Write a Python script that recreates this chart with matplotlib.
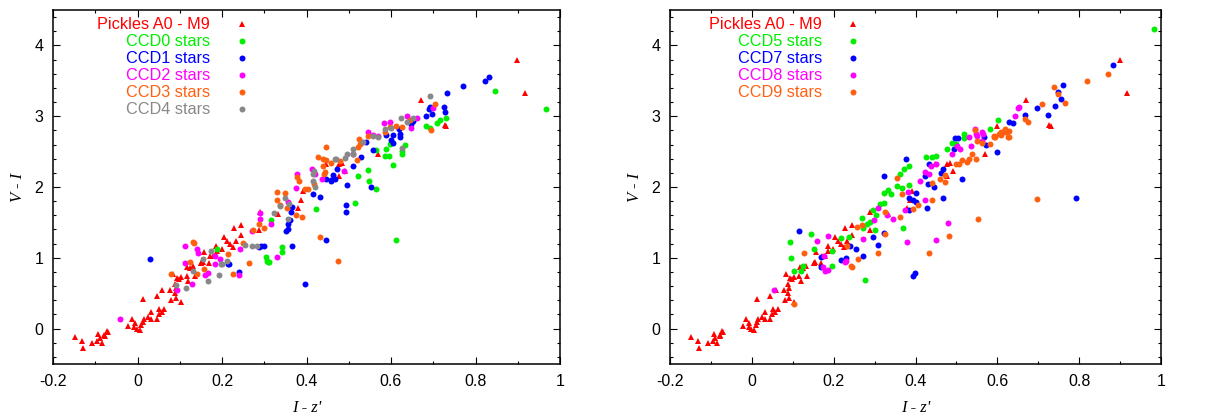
import matplotlib
matplotlib.use("Agg")
import matplotlib.pyplot as plt
from matplotlib.ticker import MultipleLocator, FuncFormatter

# ---------------- data ----------------
pickles_x = [0.899, 0.918, 0.671, 0.730, 0.598, 0.727, 0.570, 0.447, 0.477, 0.485, 0.491, 0.477,
             0.391, 0.386, 0.380, 0.333, 0.290, 0.288, 0.228, 0.244, 0.244, 0.204, 0.211, 0.232,
             0.185, 0.219, 0.225, 0.199, 0.157, 0.187, 0.171, 0.179, 0.151, 0.170,
             0.013, 0.045, 0.058, 0.033, 0.024, 0.031, 0.045, 0.050, 0.063, 0.057, 0.051,
             -0.014, -0.022, -0.006, -0.002, 0.006, -0.008, 0.009, 0.013, 0.016,
             0.080, 0.092, 0.103, 0.088, 0.094, 0.083, 0.091, 0.098, 0.104, 0.116, 0.118,
             0.124, 0.120, 0.132, 0.136, 0.151, 0.155, 0.078, 0.088,
             -0.148, -0.131, -0.130, -0.107, -0.093, -0.095, -0.089, -0.084, -0.077, -0.073,
             -0.071, -0.079]
pickles_y = [3.79, 3.33, 3.23, 2.86, 2.86, 2.88, 2.47, 2.32, 2.32, 2.34, 2.23, 2.16,
             1.95, 1.82, 1.71, 1.62, 1.64, 1.39, 1.42, 1.46, 1.32, 1.29, 1.24, 1.24,
             1.17, 1.20, 1.15, 1.13, 1.08, 1.10, 1.03, 1.02, 0.92, 0.92,
             0.42, 0.46, 0.55, 0.23, 0.16, 0.14, 0.13, 0.21, 0.28, 0.23, 0.28,
             0.14, 0.04, 0.08, 0.00, -0.02, 0.02, 0.05, 0.10, 0.13,
             0.41, 0.43, 0.37, 0.63, 0.72, 0.77, 0.58, 0.70, 0.73, 0.75, 0.87,
             0.85, 0.67, 0.89, 0.75, 0.92, 0.94, 0.55, 0.50,
             -0.12, -0.18, -0.27, -0.20, -0.08, -0.18, -0.13, -0.20, -0.11, -0.04,
             -0.05, -0.09]

# left panel
ccd0_x = [0.968, 0.846, 0.731, 0.716, 0.708, 0.682, 0.692, 0.633, 0.598, 0.588, 0.596, 0.585,
          0.625, 0.627, 0.604, 0.565, 0.546, 0.521, 0.548, 0.564, 0.422, 0.514, 0.613, 0.315,
          0.341, 0.341, 0.303, 0.307, 0.312, 0.189, 0.309]
ccd0_y = [3.10, 3.36, 2.97, 2.95, 2.91, 2.86, 2.84, 2.60, 2.61, 2.54, 2.44, 2.44,
          2.47, 2.51, 2.31, 2.52, 2.24, 2.15, 2.08, 1.97, 1.69, 1.77, 1.25, 1.54,
          1.15, 1.08, 1.01, 0.95, 0.94, 1.13, 0.94]

ccd1_x = [0.833, 0.823, 0.771, 0.733, 0.692, 0.690, 0.726, 0.728, 0.682, 0.697, 0.652, 0.648,
          0.589, 0.605, 0.622, 0.622, 0.601, 0.605, 0.558, 0.542, 0.528, 0.510, 0.473, 0.463,
          0.447, 0.457, 0.467, 0.459, 0.416, 0.433, 0.497, 0.552, 0.366, 0.364, 0.362, 0.357,
          0.357, 0.351, 0.288, 0.293, 0.299, 0.366, 0.445, 0.493, 0.493, 0.029, 0.215, 0.396,
          0.240, 0.216, 0.619]
ccd1_y = [3.56, 3.50, 3.42, 3.33, 3.13, 3.10, 3.13, 3.06, 3.00, 3.03, 2.93, 2.89,
          2.74, 2.74, 2.75, 2.70, 2.66, 2.62, 2.52, 2.63, 2.43, 2.29, 2.25, 2.17,
          2.11, 2.10, 2.11, 2.09, 1.90, 1.86, 2.03, 2.00, 1.72, 1.64, 1.54, 1.48,
          1.41, 1.38, 1.15, 1.17, 1.17, 1.17, 1.25, 1.74, 1.64, 0.99, 0.91, 0.63,
          0.80, 0.91, 2.82]

ccd2_x = [0.700, 0.637, 0.662, 0.647, 0.583, 0.597, 0.546, 0.558, 0.570, 0.509, 0.488, 0.414,
          0.419, 0.436, 0.378, 0.376, 0.356, 0.290, 0.290, 0.317, 0.112, 0.140, 0.144, 0.183,
          0.195, 0.112, 0.329, 0.270, 0.242, -0.042, 0.129, 0.094, 0.159, 0.167, 0.183, 0.240]
ccd2_y = [3.12, 3.00, 2.97, 2.84, 2.91, 2.92, 2.78, 2.74, 2.72, 2.46, 2.23, 2.25,
          2.18, 2.12, 2.19, 1.99, 1.79, 1.63, 1.55, 1.48, 1.17, 1.12, 1.07, 1.03,
          0.99, 0.93, 1.01, 1.38, 1.12, 0.14, 0.63, 0.55, 0.76, 0.79, 0.91, 0.76]

ccd3_x = [0.705, 0.694, 0.644, 0.597, 0.613, 0.625, 0.585, 0.546, 0.524, 0.526, 0.447, 0.522,
          0.520, 0.428, 0.439, 0.447, 0.439, 0.457, 0.479, 0.329, 0.349, 0.331, 0.337, 0.355,
          0.442, 0.443, 0.378, 0.383, 0.417, 0.404, 0.396, 0.274, 0.299, 0.287, 0.132, 0.133,
          0.249, 0.215, 0.376, 0.390, 0.433, 0.475, 0.264, 0.125, 0.080, 0.142, 0.225, 0.157]
ccd3_y = [3.17, 2.81, 2.95, 2.85, 2.86, 2.85, 2.78, 2.72, 2.68, 2.61, 2.57, 2.56,
          2.38, 2.42, 2.39, 2.38, 2.30, 2.34, 2.37, 1.93, 1.91, 1.81, 1.75, 1.71,
          2.18, 2.21, 2.14, 2.08, 2.04, 1.97, 1.97, 1.39, 1.42, 1.48, 1.23, 1.21,
          1.21, 1.05, 1.61, 1.58, 1.29, 0.96, 0.92, 0.94, 0.77, 0.77, 0.77, 0.84]

ccd4_x = [0.692, 0.651, 0.624, 0.637, 0.585, 0.601, 0.558, 0.570, 0.625, 0.510, 0.509, 0.495,
          0.491, 0.471, 0.467, 0.533, 0.417, 0.416, 0.416, 0.420, 0.349, 0.337, 0.359, 0.323,
          0.356, 0.254, 0.272, 0.282, 0.175, 0.155, 0.211, 0.199, 0.114, 0.092, 0.167, 0.193,
          0.132, 0.197]
ccd4_y = [3.28, 2.97, 2.97, 2.92, 2.82, 2.84, 2.72, 2.71, 2.55, 2.54, 2.47, 2.47,
          2.41, 2.40, 2.40, 2.63, 2.22, 2.18, 2.09, 2.00, 1.84, 1.73, 1.76, 1.63,
          1.55, 1.18, 1.17, 1.16, 1.10, 0.99, 0.96, 0.91, 0.57, 0.61, 0.67, 0.76,
          0.81, 0.91]

# right panel
ccd5_x = [0.982, 0.601, 0.581, 0.518, 0.518, 0.500, 0.478, 0.490, 0.450, 0.441, 0.425, 0.385,
          0.373, 0.362, 0.356, 0.366, 0.334, 0.322, 0.340, 0.385, 0.314, 0.304, 0.288, 0.282,
          0.271, 0.300, 0.269, 0.369, 0.217, 0.197, 0.152, 0.144, 0.093, 0.096, 0.237, 0.103,
          0.119, 0.196, 0.277, 0.296, 0.322, 0.124]
ccd5_y = [4.23, 2.95, 2.82, 2.75, 2.69, 2.61, 2.54, 2.62, 2.44, 2.43, 2.43, 2.29,
          2.26, 2.19, 2.02, 1.99, 1.96, 1.92, 1.90, 2.03, 1.76, 1.60, 1.50, 1.48,
          1.42, 1.39, 1.56, 1.42, 1.28, 1.09, 1.13, 1.34, 1.23, 1.00, 1.29, 0.81,
          0.81, 0.88, 0.69, 1.68, 1.77, 0.88]

ccd7_x = [0.883, 0.761, 0.748, 0.756, 0.741, 0.697, 0.723, 0.668, 0.628, 0.638, 0.567, 0.497,
          0.505, 0.573, 0.599, 0.494, 0.514, 0.466, 0.462, 0.432, 0.424, 0.401, 0.385, 0.393,
          0.401, 0.383, 0.428, 0.468, 0.792, 0.297, 0.308, 0.239, 0.254, 0.217, 0.231, 0.271,
          0.168, 0.116, 0.431, 0.446, 0.324, 0.377, 0.322, 0.168, 0.394, 0.398]
ccd7_y = [3.72, 3.44, 3.34, 3.24, 3.15, 3.11, 3.02, 3.02, 2.92, 2.90, 2.71, 2.69,
          2.69, 2.60, 2.50, 2.54, 2.11, 2.25, 2.20, 2.32, 2.15, 1.91, 1.85, 1.81,
          1.79, 1.68, 1.70, 1.85, 1.84, 1.29, 1.18, 1.16, 1.13, 0.97, 1.00, 1.02,
          1.01, 1.38, 2.04, 2.00, 1.35, 2.39, 2.15, 0.87, 0.74, 0.78]

ccd8_x = [0.650, 0.654, 0.642, 0.545, 0.563, 0.548, 0.531, 0.551, 0.565, 0.563, 0.535, 0.502,
          0.508, 0.490, 0.450, 0.437, 0.424, 0.433, 0.412, 0.381, 0.424, 0.375, 0.344, 0.331,
          0.308, 0.298, 0.271, 0.229, 0.185, 0.160, 0.177, 0.379, 0.450, 0.480, 0.054, 0.174,
          0.178, 0.186, 0.228]
ccd8_y = [3.11, 3.13, 3.00, 2.82, 2.77, 2.75, 2.70, 2.72, 2.75, 2.65, 2.58, 2.58,
          2.53, 2.47, 2.32, 2.30, 2.21, 2.19, 2.09, 1.93, 1.82, 1.67, 1.55, 1.61,
          1.71, 1.54, 1.27, 0.95, 1.31, 1.24, 1.03, 1.23, 1.25, 1.49, 0.54, 0.87,
          0.82, 0.83, 0.94]

ccd9_x = [0.871, 0.818, 0.739, 0.748, 0.765, 0.710, 0.667, 0.675, 0.618, 0.624, 0.610, 0.628,
          0.603, 0.593, 0.626, 0.545, 0.595, 0.608, 0.618, 0.628, 0.697, 0.552, 0.482, 0.433,
          0.308, 0.356, 0.367, 0.362, 0.326, 0.326, 0.269, 0.257, 0.233, 0.128, 0.259, 0.245,
          0.440, 0.393, 0.407, 0.441, 0.459, 0.471, 0.473, 0.500, 0.506, 0.527, 0.537, 0.547,
          0.531, 0.514, 0.551, 0.563, 0.583, 0.593, 0.103, 0.243]
ccd9_y = [3.60, 3.50, 3.41, 3.31, 3.18, 3.17, 2.96, 2.92, 2.82, 2.78, 2.77, 2.79,
          2.75, 2.72, 2.71, 2.80, 2.71, 2.73, 2.77, 2.71, 1.83, 1.55, 1.31, 1.07,
          1.07, 2.13, 1.90, 1.58, 1.64, 1.34, 1.46, 1.44, 1.16, 1.07, 0.99, 0.87,
          1.82, 1.69, 1.74, 2.05, 2.11, 2.07, 2.17, 2.32, 2.33, 2.36, 2.46, 2.40,
          2.40, 2.38, 2.65, 2.62, 2.61, 2.71, 0.35, 0.89]

legend_labels_left = ["Pickles A0 - M9", "CCD0 stars", "CCD1 stars", "CCD2 stars", "CCD3 stars", "CCD4 stars"]
legend_labels_right = ["Pickles A0 - M9", "CCD5 stars", "CCD7 stars", "CCD8 stars", "CCD9 stars"]
x_ticks = [-0.2, 0, 0.2, 0.4, 0.6, 0.8, 1.0]
y_ticks = [0, 1, 2, 3, 4]

RED = "#ff0000"
GREEN = "#00ee00"
BLUE = "#0000ff"
MAGENTA = "#ff00ff"
ORANGE = "#ff6010"
GRAY = "#888888"

plt.rcParams['font.family'] = ['Liberation Sans', 'DejaVu Sans']

fig = plt.figure(figsize=(12.07, 4.16), dpi=100)
axL = fig.add_axes([53/1207, 52/416, 507/1207, 354/416])
axR = fig.add_axes([670/1207, 52/416, 491/1207, 354/416])

MS_C = 4.3
MS_T = 3.8


def setup(ax):
    ax.set_xlim(-0.2, 1.0)
    ax.set_ylim(-0.5, 4.5)
    ax.set_xticks(x_ticks)
    ax.set_yticks(y_ticks)
    ax.xaxis.set_minor_locator(MultipleLocator(0.1))
    ax.yaxis.set_minor_locator(MultipleLocator(0.2))
    ax.xaxis.set_major_formatter(FuncFormatter(lambda v, p: "%g" % round(v, 2)))
    ax.yaxis.set_major_formatter(FuncFormatter(lambda v, p: "%g" % v))
    ax.tick_params(which='both', direction='in', top=True, right=True, labelsize=11.5, width=0.8)
    ax.tick_params(which='major', length=5, pad=7)
    ax.tick_params(which='minor', length=2.5)
    for s in ax.spines.values():
        s.set_linewidth(1.1)
    ax.set_xlabel("I - z'", family=['Liberation Serif', 'DejaVu Serif'], style='italic', fontsize=12, labelpad=8)
    ax.set_ylabel("V - I", family=['Liberation Serif', 'DejaVu Serif'], style='italic', fontsize=12, labelpad=6)


def draw(ax, series, labels):
    for (xs, ys, color, marker) in series:
        ms = MS_T if marker == '^' else MS_C
        ax.plot(xs, ys, linestyle='none', marker=marker, color=color, markersize=ms, markeredgewidth=0)
    # legend (gnuplot style: right-aligned text then marker)
    ystart = 0.960
    dy = 0.0482
    for i, ((xs, ys, color, marker), lab) in enumerate(zip(series, labels)):
        yy = ystart - i * dy
        ax.text(0.31, yy, lab, transform=ax.transAxes, ha='right', va='center', color=color, fontsize=11.7)
        ms = MS_T if marker == '^' else MS_C
        ax.plot([0.373], [yy], transform=ax.transAxes, marker=marker, color=color, markersize=ms,
                markeredgewidth=0, linestyle='none')


setup(axL)
setup(axR)

left_series = [
    (pickles_x, pickles_y, RED, '^'),
    (ccd0_x, ccd0_y, GREEN, 'o'),
    (ccd1_x, ccd1_y, BLUE, 'o'),
    (ccd2_x, ccd2_y, MAGENTA, 'o'),
    (ccd3_x, ccd3_y, ORANGE, 'o'),
    (ccd4_x, ccd4_y, GRAY, 'o'),
]
right_series = [
    (pickles_x, pickles_y, RED, '^'),
    (ccd5_x, ccd5_y, GREEN, 'o'),
    (ccd7_x, ccd7_y, BLUE, 'o'),
    (ccd8_x, ccd8_y, MAGENTA, 'o'),
    (ccd9_x, ccd9_y, ORANGE, 'o'),
]
draw(axL, left_series, legend_labels_left)
draw(axR, right_series, legend_labels_right)

fig.savefig("out.png", dpi=100)
